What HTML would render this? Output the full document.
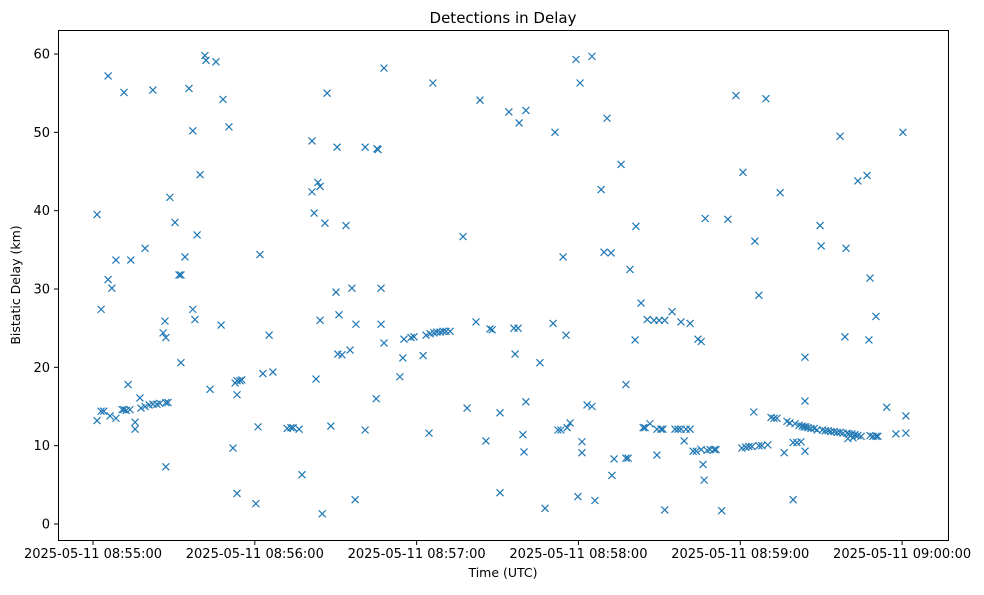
<!DOCTYPE html>
<html><head><meta charset="utf-8"><style>
body{margin:0;background:#fff;}
svg text{font-family:"DejaVu Sans","Liberation Sans",sans-serif;fill:#000;}
</style></head><body>
<svg id="chart" width="984" height="590" xmlns="http://www.w3.org/2000/svg">
<rect width="984" height="590" fill="#fff"/>
<text x="503" y="23" font-size="15" text-anchor="middle">Detections in Delay</text>
<text x="503" y="577" font-size="12.5" text-anchor="middle">Time (UTC)</text>
<text transform="translate(20,285) rotate(-90)" font-size="12.5" text-anchor="middle">Bistatic Delay (km)</text>
<g id="marks"></g>
<g id="axes"></g>
<rect x="58.5" y="30.5" width="890" height="510" fill="none" stroke="#000" stroke-width="1"/>
</svg>
<script>
const xTickSeconds=[0,60,120,180,240,300];
const xTickLabels=["2025-05-11 08:55:00","2025-05-11 08:56:00","2025-05-11 08:57:00","2025-05-11 08:58:00","2025-05-11 08:59:00","2025-05-11 09:00:00"];
const yTicks=[0,10,20,30,40,50,60];
const times=[1.5,3,1.5,3,4,5.6,5.6,7,8.5,6.3,8.5,11.5,10.8,11.5,12.3,13,13.7,14,15.6,15.6,17.4,17.8,19.3,19.3,20.8,22.2,22.2,23.7,24.8,26,26.7,27,27,27,27.8,28.5,30.4,31.9,32.6,32.6,34.1,35.6,37,37,37.8,38.6,39.7,41.5,41.9,43.4,45.6,47.5,48.2,50.4,51.9,52.7,53.4,53.4,53.4,54.5,55.2,60.4,61.2,61.9,63,65.3,66.7,72,73.4,74.2,76.4,77.5,81.2,81.2,82,82.7,83.4,84.2,84.2,85,86,86.8,88.2,90.1,90.5,90.8,91.2,92.3,93.8,95.3,96,97.2,97.5,100.9,100.9,105,105.3,105.7,106.8,106.8,107.9,107.9,113.8,114.9,115.3,117.9,119,122.4,123.5,124.6,125,126,126.4,127.5,128.7,129.8,130.9,132.4,137.2,138.7,142,143.5,145.7,147.2,148,150.9,150.9,154.2,156.1,156.5,157.6,158,159.4,159.8,160.5,160.5,165.7,167.6,170.6,171.3,172.4,173.5,174.3,175.4,175.8,176.9,179.1,179.8,180.6,181.3,181.3,183.2,185,185,186.1,188.4,189.5,190.6,192.1,192.4,193.2,195.8,197.6,197.6,198.4,199.1,201,201.3,203.2,204,204.7,205.5,206.5,208,209.1,209.1,209.9,210.6,211.3,212,212,214.7,215.8,216.9,218,218,219.2,219.9,221.4,221.4,222.5,223.7,224.3,225.5,225.5,226.2,227,226.6,227.7,228.8,230.3,231,233.1,235.4,238.4,240.6,241,242,243.2,244.3,245,245.4,246.9,246.9,248,249.5,250.2,251.4,252.5,253.6,254.8,256.3,257.3,258.4,259.6,260.3,259.6,261,261.8,262.5,262.9,263.6,264,264,264,264.3,265.1,266.2,267.4,268.5,269.6,270,270.4,271.5,272.6,273.6,274.8,275.9,277,277,278.1,278.8,279.2,279.6,280.3,279.9,281.4,281.8,282.5,283.6,283.6,284.8,287,288.1,287.7,288.1,289.2,290.3,290.3,291,294.3,297.7,300.3,301.4,301.4];
const delays=[39.5,27.4,13.2,14.4,14.4,57.2,31.2,30.1,33.7,13.8,13.5,55.1,14.6,14.6,14.5,17.8,14.6,33.7,13,12.1,16.1,14.8,35.2,15,15.2,55.4,15.3,15.3,15.4,24.4,25.9,23.8,7.3,15.5,15.5,41.7,38.5,31.8,31.8,20.6,34.1,55.6,50.2,27.4,26.1,36.9,44.6,59.8,59.2,17.2,59,25.4,54.2,50.7,9.7,18,16.5,3.9,18.3,18.3,18.4,2.6,12.4,34.4,19.2,24.1,19.4,12.2,12.3,12.3,12.1,6.3,48.9,42.4,39.7,18.5,43.6,43.1,26,1.3,38.4,55,12.5,29.6,48.1,21.7,26.7,21.6,38.1,22.2,30.1,3.1,25.5,48.1,12,16,47.9,47.8,25.5,30.1,23.1,58.2,18.8,21.2,23.6,23.8,23.9,21.5,24.1,11.6,24.3,56.3,24.4,24.5,24.5,24.6,24.6,24.6,36.7,14.8,25.8,54.1,10.6,24.9,24.8,14.2,4,52.6,25,21.7,25,51.2,11.4,9.2,15.6,52.8,20.6,2,25.6,50,12,12,34.1,24.1,12.3,12.9,59.3,3.5,56.3,10.5,9.1,15.2,59.7,15,3,42.7,34.7,51.8,34.6,6.2,8.3,45.9,17.8,8.4,8.4,32.5,23.5,38,28.2,12.3,12.3,26.1,12.8,26,12.1,8.8,26,12.1,12.1,1.8,26,27.1,12.1,12.1,25.8,12.1,10.6,12.1,25.6,12.1,9.3,9.3,23.6,23.3,9.5,7.6,39,5.6,9.4,9.5,9.5,9.5,1.7,38.9,54.7,9.7,44.9,9.8,9.9,9.9,14.3,36.1,29.2,10,10,54.3,10.1,13.6,13.5,13.5,42.3,9.1,13.1,12.9,3.1,12.8,10.4,10.4,12.6,10.5,12.5,12.4,21.3,15.7,9.3,12.4,12.3,12.2,12.2,12,38.1,35.5,12,11.9,11.9,11.8,11.8,11.7,49.5,11.7,11.6,23.9,35.2,11.6,11.5,10.9,11.5,11,11.4,11.3,43.8,11.2,44.5,31.4,23.5,11.3,11.2,11.2,26.5,11.2,14.9,11.5,50,13.8,11.6];
const NS="http://www.w3.org/2000/svg";
function xScale(t){return 93+t*2.697;}
function yScale(v){return 524-v*7.833;}
const marks=document.getElementById('marks');
for(let i=0;i<times.length;i++){
  const x=xScale(times[i]),y=yScale(delays[i]),s=3.5;
  const p=document.createElementNS(NS,'path');
  p.setAttribute('d',`M${x-s},${y-s}L${x+s},${y+s}M${x-s},${y+s}L${x+s},${y-s}`);
  p.setAttribute('stroke','#1f77b4');p.setAttribute('stroke-width','1.2');p.setAttribute('fill','none');
  
  
  marks.appendChild(p);
}
const axes=document.getElementById('axes');
xTickSeconds.forEach((t,i)=>{
  const x=xScale(t);
  const l=document.createElementNS(NS,'line');
  l.setAttribute('x1',x);l.setAttribute('x2',x);l.setAttribute('y1',540.5);l.setAttribute('y2',545);l.setAttribute('stroke','#000');
  
  
  axes.appendChild(l);
  const tx=document.createElementNS(NS,'text');
  tx.setAttribute('x',x);tx.setAttribute('y',558);tx.setAttribute('font-size','13');tx.setAttribute('text-anchor','middle');
  tx.textContent=xTickLabels[i];
  
  
  axes.appendChild(tx);
});
yTicks.forEach(v=>{
  const y=yScale(v);
  const l=document.createElementNS(NS,'line');
  l.setAttribute('x1',54);l.setAttribute('x2',58.5);l.setAttribute('y1',y);l.setAttribute('y2',y);l.setAttribute('stroke','#000');
  
  
  axes.appendChild(l);
  const tx=document.createElementNS(NS,'text');
  tx.setAttribute('x',50);tx.setAttribute('y',y+4.5);tx.setAttribute('font-size','13');tx.setAttribute('text-anchor','end');
  tx.textContent=v;
  
  
  axes.appendChild(tx);
});
</script>
</body></html>
